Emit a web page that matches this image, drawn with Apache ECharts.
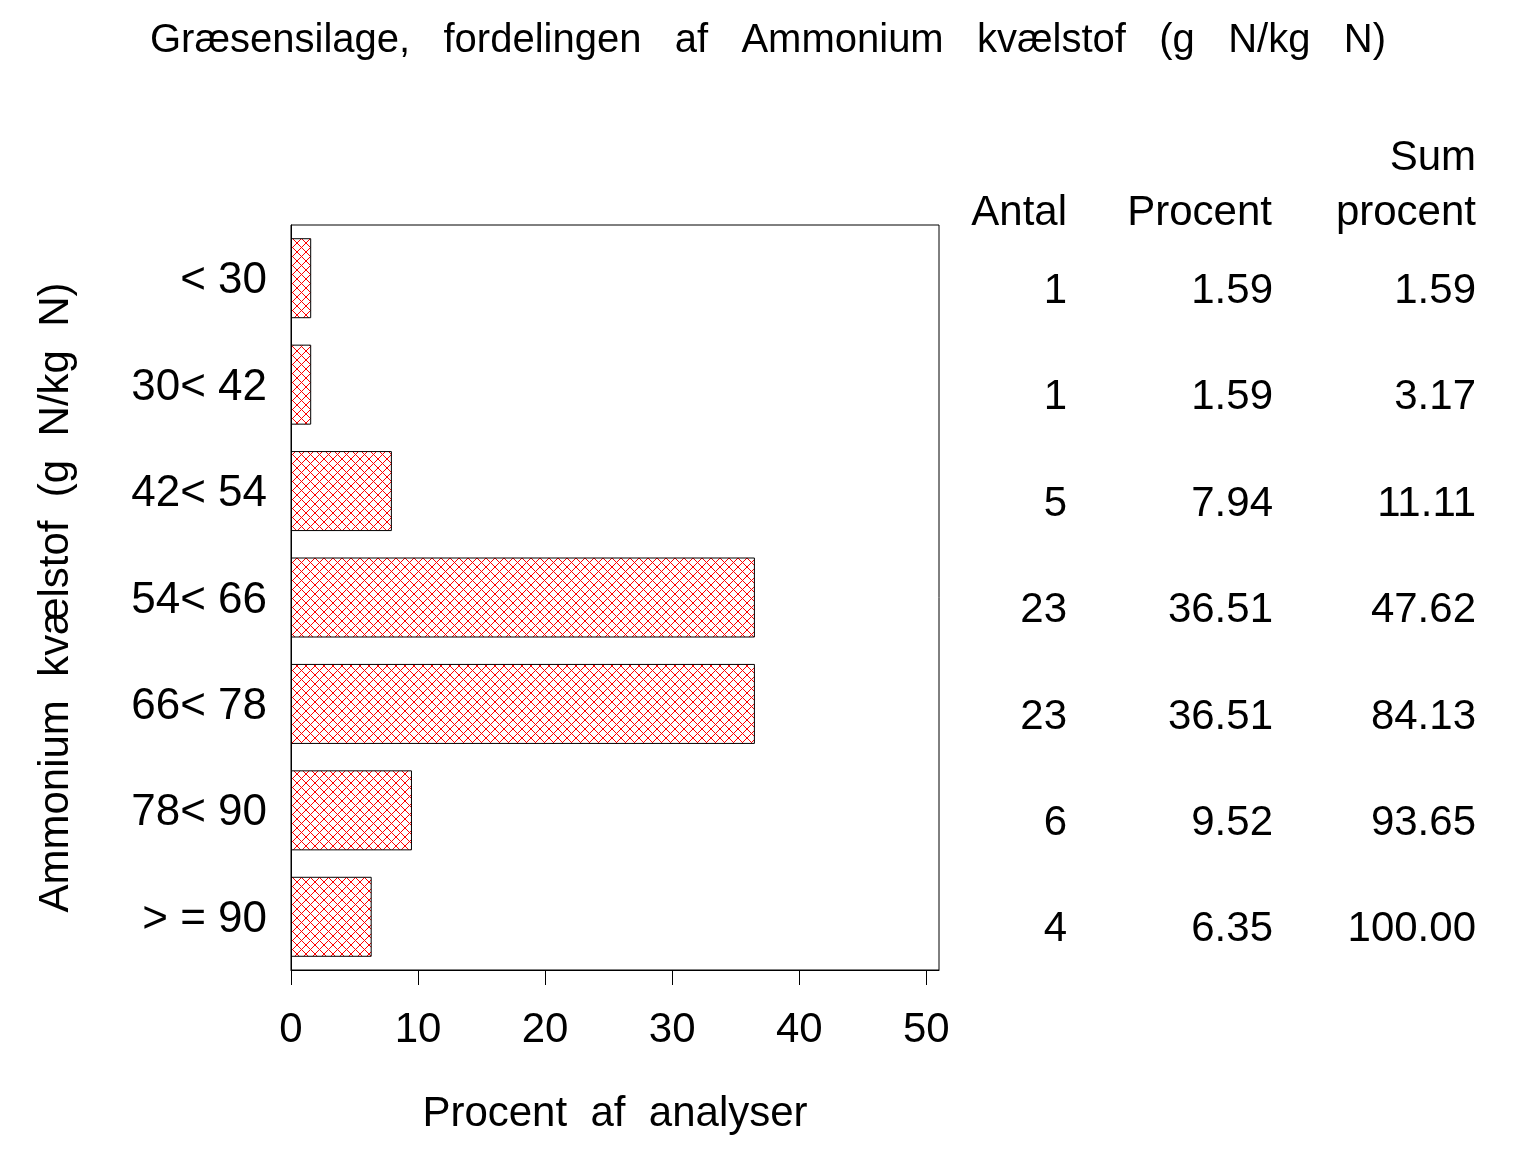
<!DOCTYPE html>
<html>
<head>
<meta charset="utf-8">
<script src="https://cdn.jsdelivr.net/npm/echarts@6/dist/echarts.min.js"></script>
<style>
  html, body { margin: 0; padding: 0; background: #fff; }
  #chart { width: 1536px; height: 1152px; }
</style>
</head>
<body>
<div id="chart"></div>
<script>
// intervaller (g N/kg N)
var categories = ['< 30', '30< 42', '42< 54', '54< 66', '66< 78', '78< 90', '> = 90'];
var antal = [1, 1, 5, 23, 23, 6, 4];
var procent = [1.59, 1.59, 7.94, 36.51, 36.51, 9.52, 6.35];
var sumProcent = [1.59, 3.17, 11.11, 47.62, 84.13, 93.65, 100.00];
var xTicks = [0, 10, 20, 30, 40, 50];

var FONT = '"Liberation Sans", Arial, Helvetica, sans-serif';

// rødt krydsskraveret mønster
function makeHatch() {
  var c = document.createElement('canvas');
  c.width = 9; c.height = 9;
  var ctx = c.getContext('2d');
  ctx.strokeStyle = '#ff0000';
  ctx.lineWidth = 1;
  ctx.beginPath();
  ctx.moveTo(0, 0); ctx.lineTo(9, 9);
  ctx.moveTo(9, 0); ctx.lineTo(0, 9);
  ctx.stroke();
  return c;
}

// en kolonne i tabellen til højre = en ekstra y-akse
function tableAxis(offset, values, digits) {
  return {
    type: 'category',
    data: categories,
    inverse: true,
    position: 'right',
    offset: offset,
    axisLine: { show: false },
    axisTick: { show: false },
    axisLabel: {
      margin: 0,
      align: 'right',
      verticalAlign: 'top',
      lineHeight: 26,
      color: '#000',
      fontSize: 42,
      fontFamily: FONT,
      formatter: function (v, i) {
        return digits ? values[i].toFixed(digits) : String(values[i]);
      }
    }
  };
}

var chart = echarts.init(document.getElementById('chart'));

var option = {
  backgroundColor: '#fff',
  animation: false,
  title: {
    text: 'Græsensilage,   fordelingen   af   Ammonium   kvælstof   (g   N/kg   N)',
    left: 'center',
    top: 16,
    textStyle: { fontSize: 40, fontWeight: 'normal', color: '#000', fontFamily: FONT }
  },
  grid: {
    left: 291, right: 597, top: 225, bottom: 182,
    show: true, borderColor: '#000', borderWidth: 1, backgroundColor: 'transparent'
  },
  xAxis: {
    type: 'value',
    min: 0,
    max: 51,
    name: 'Procent  af  analyser',
    nameLocation: 'middle',
    nameGap: 123,
    nameTextStyle: { fontSize: 42, color: '#000', fontFamily: FONT },
    splitLine: { show: false },
    axisLine: { show: true, lineStyle: { color: '#000', width: 1 } },
    axisTick: { show: true, length: 15, customValues: xTicks, lineStyle: { color: '#000', width: 1 } },
    axisLabel: { customValues: xTicks, margin: 39, color: '#000', fontSize: 42, fontFamily: FONT }
  },
  yAxis: [
    {
      type: 'category',
      data: categories,
      inverse: true,
      name: 'Ammonium  kvælstof  (g  N/kg  N)',
      nameLocation: 'middle',
      nameRotate: 90,
      nameGap: 214,
      nameTextStyle: { fontSize: 42, color: '#000', fontFamily: FONT },
      axisLine: { show: true, lineStyle: { color: '#000', width: 1 } },
      axisTick: { show: false },
      axisLabel: {
        margin: 24, color: '#000', fontSize: 44, fontFamily: FONT,
        verticalAlign: 'top', lineHeight: 6
      }
    },
    tableAxis(128, antal, 0),
    tableAxis(334, procent, 2),
    tableAxis(537, sumProcent, 2)
  ],
  graphic: [
    { type: 'text', right: 1536 - 1067, top: 192, style: { text: 'Antal', fontSize: 42, fontFamily: FONT, fill: '#000' } },
    { type: 'text', right: 1536 - 1272, top: 192, style: { text: 'Procent', fontSize: 42, fontFamily: FONT, fill: '#000' } },
    { type: 'text', right: 1536 - 1476, top: 137, style: { text: 'Sum', fontSize: 42, fontFamily: FONT, fill: '#000' } },
    { type: 'text', right: 1536 - 1476, top: 192, style: { text: 'procent', fontSize: 42, fontFamily: FONT, fill: '#000' } }
  ],
  series: [{
    type: 'bar',
    data: procent,
    barWidth: 80,
    itemStyle: {
      color: { image: makeHatch(), repeat: 'repeat' },
      borderColor: '#000',
      borderWidth: 1
    },
    silent: true
  }]
};

chart.setOption(option);
</script>
</body>
</html>
